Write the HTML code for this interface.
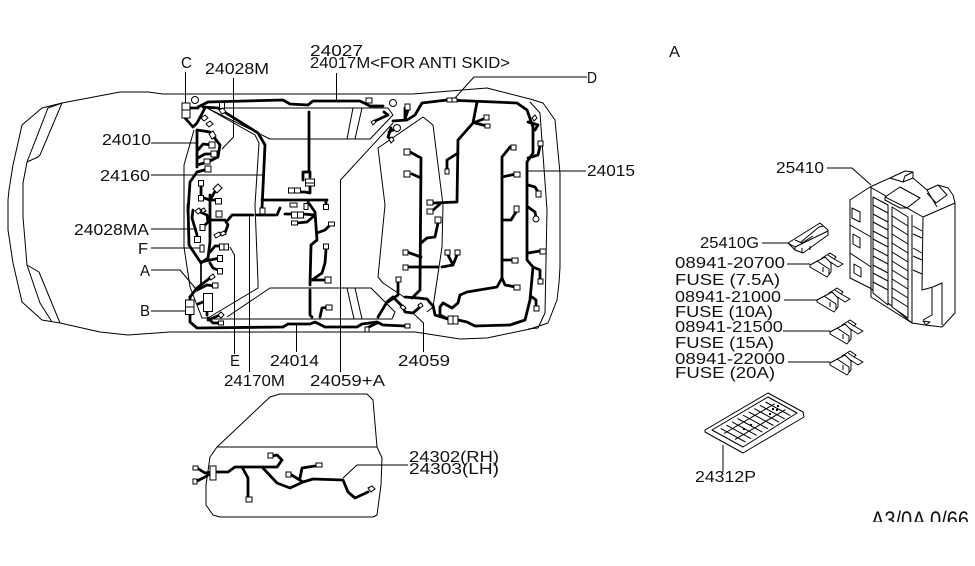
<!DOCTYPE html>
<html><head><meta charset="utf-8"><style>
html,body{margin:0;padding:0;background:#fff;width:975px;height:566px;overflow:hidden}
svg{display:block}
.t{fill:none;stroke:#000;stroke-width:1;stroke-linejoin:round}
.w{fill:none;stroke:#000;stroke-width:2.8;stroke-linejoin:round;stroke-linecap:round}
.n{fill:none;stroke:#000;stroke-width:1.7;stroke-linejoin:round;stroke-linecap:round}
.b rect,.b circle,.b path{fill:#fff;stroke:#000;stroke-width:1}
.f path{fill:#fff;stroke:#000;stroke-width:1;stroke-linejoin:round}
text{font-family:"Liberation Sans",sans-serif;font-size:16px;fill:#111}
</style></head><body>
<svg width="975" height="566" viewBox="0 0 975 566" xmlns="http://www.w3.org/2000/svg">
<defs><clipPath id="cp"><rect x="860" y="500" width="115" height="22"/></clipPath></defs>

<!-- car body -->
<path class="t" d="M60 323L42 320L22 302L13 263L8 230L8 200L9 190L13 165L22 125L42 108L62 103L120 92L148 92L163 94L413 94L487 88L530 99L543 103L555 120L560 173L560 267L559 283L557 300L548 323L530 329L487 338L460 339L415 332L170 332L128 335L100 332Z"/>
<path class="t" d="M62 103L40 155L38 157L27 162L23 183L23 217L27 265L39 272L60 323M62 103L48 108L27 162M27 265L40 303L52 322"/>
<!-- interior -->
<path class="t" d="M194 130L184 165L184 247L190 287L202 318L208 318L258 288L258 282L255 205L259 143L255 135L207 108L270 139L370 139L393 115L388 108L222 108"/>
<path class="t" d="M353 108L347 139M362 108L355 139M227 317L270 288L371 288L395 312L392 319L213 319M347 288L354 319M355 288L362 319"/>
<path class="t" d="M404 297L383 283L378 277L385 205L378 148L423 117L433 125L443 205L442 247L433 307L427 312"/>
<path class="t" d="M530 102L540 113L547 210L545 313L538 328L528 329"/>

<!-- leaders -->
<path class="t" d="M185.500 72V103M233.500 78V137L222 149M151 143H197M151 175H263M151 229H197M151 248H201M151 270H180L196 289M151 311H185M234.500 354V255L230 247M249.500 372V214M296.500 352V325M340.500 372V180L393 123M423.500 352V323L413 313M336.500 73V100M587 77H474L455 98M586 171H527"/>

<!-- wires top and left -->
<path class="w" d="M198 107L208 102L283 100L290 104L308 105L313 101L360 101L370 106L383 106M190 108H198"/>
<path class="w" d="M185 118L193 127L197 123L205 108M203 107L218 108L258 133L265 145L262 208M197 130V167M197 130L210 132L220 145L218 157L208 162L197 165M188 212L190 182L197 172L208 169M198 150L203 144L212 145M198 158L205 154L214 154"/>
<path class="w" d="M262 200H285"/>
<path class="w" d="M201 186V197L210 200L217 188M210 200H218M210 195V242L208 258L201 263M188 205L189 245L201 263M193 210L192 218L197 235M200 212L207 215L208 222L203 227"/>
<path class="w" d="M212 220H225L228 225L225 233L218 235M228 220L232 215L253 215M257 215H275M280 208L277 215M210 252L215 246L220 246M201 262L210 260L220 258M210 263L213 268L220 271M190 297L197 288L210 278M197 290L207 285L215 286"/>
<path class="n" d="M201 263V288"/>
<path class="w" d="M190 297V300M190 315V322L197 328L283 327L288 324L310 324L315 322L325 327L357 327L362 324L377 322L383 325L405 326M198 304L203 302M207 312V315M208 318L213 323L218 323M208 320L220 315M367 328L377 323"/>

<!-- centre -->
<path class="w" d="M309 112V172M303 180V172H310V177M310 186V193L305 192H300M285 200H327M326 200V205M308 202L315 212L317 240L311 245L310 285M285 214H292M303 214L315 215M297 223L307 222L315 215M317 233L325 230L329 226M326 250L325 263L322 273L312 280L327 280M310 290V315L312 317M320 317L322 308L329 307M375 121L388 115L384 112M391 128L388 137L391 139M397 128L389 132"/>

<!-- rear harness -->
<path class="w" d="M393 121L407 120L415 115L422 103L447 100L517 103L527 110L533 127V153L527 162V260L533 267L530 300L525 320L510 325L475 326L467 322L458 320M405 108L405 120M408 110L405 119"/>
<path class="w" d="M378 317L387 302L393 297M388 302L398 295L398 282M393 297L403 307L405 312L413 313L420 307M405 297L418 298L427 299L432 305M412 298L420 290L421 158M410 152L421 158M412 174L421 178"/>
<path class="w" d="M407 252L421 257M407 267H438M442 267L453 265L448 255M453 265L457 255M421 243L427 238L435 237L438 223"/>
<path class="w" d="M433 203L457 202L458 140L473 123L477 102M432 211L440 204M447 170V160L458 153M473 123L486 118M475 123L487 126"/>
<path class="w" d="M502 278V157L510 147M502 177L516 174M502 220H511L516 212M502 260L514 260M502 278L505 285L516 287M502 278L497 287L467 292L460 295L458 303L452 308L443 303L440 307V315L448 319M433 305L435 315L448 319"/>
<path class="w" d="M528 122L538 125L535 130M540 146L538 155L528 158M528 185L535 187L538 192M528 207L535 212L536 217M528 253L540 251M533 267L540 270V278M532 297L536 300V306"/>

<!-- connectors -->
<g class="b">
<rect x="182" y="103" width="8" height="15"/><path d="M182 110H190"/>
<circle cx="195" cy="100" r="3.500"/><rect x="219.500" y="102.500" width="5" height="6"/>
<path d="M201 118L205 115L208 118L204 121ZM206 124L210 121L213 124L209 127ZM209 134L213 131L216 136L212 139ZM219 110L223 108L226 112L222 114Z"/>
<rect x="209" y="142" width="6" height="6"/><rect x="211" y="151" width="6" height="6"/><rect x="204" y="159" width="6" height="5"/><rect x="205" y="166" width="6" height="6"/>
<rect x="198.500" y="180.500" width="5" height="5.500"/><rect x="198.500" y="195.500" width="5" height="5.500"/><path d="M213 189L218 184L222 188L217 193Z"/><rect x="215.500" y="198.500" width="6" height="5.500"/>
<rect x="216" y="211" width="6" height="6"/><rect x="200" y="224.500" width="5" height="6"/><path d="M214 235L219 232L221 235L216 238ZM220 233L224 231L226 234L222 236ZM195 211L199 208L202 211L198 214ZM200 210L204 208L206 211L202 213Z"/><rect x="194.500" y="236.500" width="6" height="6"/><rect x="200" y="245" width="4" height="7"/>
<rect x="219.500" y="244" width="4.500" height="6"/><rect x="224" y="244" width="4.500" height="6"/><rect x="217.500" y="255.500" width="5" height="6"/><rect x="217.500" y="268.500" width="5" height="5.500"/>
<path d="M209 277L213 274L215 277L211 280Z"/><rect x="212.500" y="283" width="5.500" height="5"/>
<rect x="203.500" y="293.500" width="9" height="18"/><rect x="185.500" y="300" width="8.500" height="14.500"/><path d="M185.500 307H194"/>
<path d="M218 315L221 312L224 315L221 318Z"/><rect x="218.500" y="321" width="5" height="4"/>
<rect x="260" y="208" width="5" height="6"/><rect x="290" y="203" width="7" height="4"/>
<rect x="288.500" y="188" width="6" height="5"/><rect x="294.500" y="188" width="6" height="5"/><rect x="305.500" y="179" width="9" height="7"/><path d="M305.500 183H314.500"/>
<rect x="304" y="203.500" width="4" height="6"/><rect x="323.500" y="204.500" width="5" height="5"/><rect x="291.500" y="212" width="6" height="6"/><rect x="297.500" y="212" width="6" height="6"/><rect x="291.500" y="221" width="6" height="4"/>
<rect x="328.500" y="222" width="6" height="4"/><rect x="323.500" y="244" width="5" height="5"/><rect x="325" y="277" width="6" height="6"/><rect x="326" y="305" width="6" height="5"/>
<rect x="366" y="98" width="6" height="5"/><circle cx="393" cy="103" r="3.500"/><circle cx="397" cy="128" r="3.500"/><rect x="405" y="104" width="5" height="6"/>
<path d="M371 122L374 120L376 122L373 125ZM389 139L392 137L394 140L391 143Z"/>
<rect x="404" y="149" width="6" height="6"/><rect x="404" y="171" width="6" height="6"/><rect x="403" y="250" width="5" height="5"/><rect x="403" y="265" width="5" height="5"/>
<rect x="427" y="200" width="6" height="5"/><rect x="427" y="209" width="6" height="5"/><rect x="435" y="217" width="6" height="6"/>
<rect x="445" y="250" width="5" height="5"/><rect x="455" y="250" width="5" height="5"/><rect x="445" y="169" width="4" height="5"/>
<rect x="447" y="98" width="5" height="4"/><rect x="452" y="98" width="5" height="4"/><rect x="484" y="115" width="5" height="5"/><rect x="485" y="124" width="5" height="4"/>
<rect x="511" y="145" width="5" height="5"/><rect x="514" y="172" width="6" height="5"/><rect x="514" y="206" width="5" height="6"/><rect x="512" y="258" width="6" height="5"/><rect x="514" y="285" width="6" height="5"/>
<rect x="538" y="141" width="5" height="5"/><rect x="536" y="191" width="5" height="6"/><circle cx="536" cy="219" r="3"/><rect x="540" y="249" width="6" height="5"/><rect x="538" y="279" width="5" height="5"/><rect x="534" y="306" width="5" height="5"/>
<path d="M532 118L535 115L537 118L534 121Z"/>
<rect x="396" y="277" width="5" height="5"/><path d="M400 307L403 305L406 308L403 310ZM418 305L421 303L423 306L420 308Z"/>
<rect x="448" y="316" width="5" height="8"/><rect x="453" y="316" width="5" height="8"/>
<rect x="405" y="324" width="5" height="4"/><rect x="365" y="327" width="4" height="5"/>
</g>

<!-- door -->
<path class="t" d="M217 447L270 397L280 394H367L373 400L377 447ZM217 447L210 457L206 485V505L213 515L220 517H373L377 515L381 485L382 458L377 447"/>
<path class="t" d="M343 478L357 465H408"/>
<path class="w" d="M197 468L205 473L213 472L205 477L197 481M217 472H228L235 467H262L277 467L282 460L277 455L272 456M242 467L248 478L248 497M262 467L277 483L290 488L303 482L313 479L343 480L348 492L355 498L368 492M300 478L302 468L315 466M290 474L303 482"/>
<g class="b">
<rect x="193" y="466" width="5" height="4"/><rect x="193" y="479" width="4" height="5"/><rect x="210" y="466" width="6" height="14"/>
<rect x="268" y="453" width="5" height="5"/><rect x="246" y="497" width="6" height="5"/><rect x="316" y="463" width="6" height="4"/><rect x="286" y="472" width="5" height="5"/>
<path d="M368 488L372 486L375 489L371 492Z"/>
</g>

<!-- fuse box -->
<g class="f">
<path d="M850 200L870 187L890 178L905 171L913 172L913 178L927 190L938 185L948 188L953 195L955 203V313L942 327L925 325L912 323L870 288L850 278Z"/>
<path d="M871 188V297L912 323M870 187L923 217L922 290L933 287L942 283V325M923 217L955 203M912 215V323M932 288V315L923 320M850 225L871 237M850 253L871 267" style="fill:none"/>
<path d="M890 178L903 182L913 178M903 182L905 176L913 172M927 190L937 207M927 193L936 203L947 195L938 185" style="fill:none"/>
<path d="M873 197L888 205V305L873 293Z"/><path d="M892 207L908 217V318L892 307Z"/>
<path d="M885 197L900 187L920 198L907 208ZM885 197V200L900 208L907 208"/>
<path d="M852 208L860 212V222L852 218ZM853 234L860 238V248L853 244ZM854 264L861 268V277L854 273ZM923 321L930 322L926 325Z"/>
<path d="M873 205L888 213M873 214L888 222M873 222L888 230M873 231L888 239M873 239L888 247M873 248L888 256M873 256L888 264M873 265L888 273M873 273L888 281M873 282L888 290M892 216L908 226M892 225L908 235M892 234L908 244M892 243L908 253M892 252L908 262M892 261L908 271M892 270L908 280M892 279L908 289M892 288L908 298M892 297L908 307M913 226L922 231M913 234L922 238M913 248L922 253M913 256L922 260M913 270L922 274" style="fill:none"/>
<path d="M788 243L820 223L828 230V235L803 253L795 250ZM788 243L795 247V250M795 247L828 231M801 242L819 227L823 226M802 248V253M810 246V250M795 240L802 243L813 236" />
<path d="M822 258L830 253L836 257L834 259L843 264L838 267L832 263ZM828 255L834 259"/><path d="M810 265L825 257L831 263V272L827 277L810 267ZM817 261L829 269V275M823 272V267"/>
<g transform="translate(7,35)"><path d="M822 258L830 253L836 257L834 259L843 264L838 267L832 263ZM828 255L834 259"/><path d="M810 265L825 257L831 263V272L827 277L810 267ZM817 261L829 269V275M823 272V267"/></g>
<g transform="translate(20,67)"><path d="M822 258L830 253L836 257L834 259L843 264L838 267L832 263ZM828 255L834 259"/><path d="M810 265L825 257L831 263V272L827 277L810 267ZM817 261L829 269V275M823 272V267"/></g>
<g transform="translate(20,98)"><path d="M822 258L830 253L836 257L834 259L843 264L838 267L832 263ZM828 255L834 259"/><path d="M810 265L825 257L831 263V272L827 277L810 267ZM817 261L829 269V275M823 272V267"/></g>
</g>
<path class="t" d="M827 168H852L871 185M762 243H788M787 264H810M784 300H817M783 331H830M788 362H830M723 445V472"/>

<!-- mat -->
<path class="t" d="M705 430L768 393L803 412L804 417L743 453L705 432ZM712 430L768 397L797 413L743 447Z"/>
<path class="t" d="M720.700 428.400L745.500 442M726.300 425.100L751.100 438.700M731.900 421.800L756.700 435.400M737.500 418.500L762.300 432.100M743.100 415.200L767.900 428.800M748.700 411.900L773.500 425.500M754.300 408.600L779.100 422.200M759.900 405.300L784.700 418.900M765.500 402L790.300 415.600M724.100 433.500L774.500 403.800M735 439.400L785.400 409.700"/>
<path d="M750 424h2v2h-2zM743 428h2v2h-2zM769 413h2v2h-2zM776 409h2v2h-2zM772 408h2v2h-2zM777 405h2v2h-2z"/>

<!-- labels -->
<text x="310" y="56" textLength="53" lengthAdjust="spacingAndGlyphs">24027</text>
<text x="310" y="68" textLength="200" lengthAdjust="spacingAndGlyphs">24017M&lt;FOR ANTI SKID&gt;</text>
<text x="181" y="68" textLength="11" lengthAdjust="spacingAndGlyphs">C</text>
<text x="205" y="74" textLength="64" lengthAdjust="spacingAndGlyphs">24028M</text>
<text x="102" y="145" textLength="49" lengthAdjust="spacingAndGlyphs">24010</text>
<text x="100" y="181" textLength="50" lengthAdjust="spacingAndGlyphs">24160</text>
<text x="74" y="235" textLength="75" lengthAdjust="spacingAndGlyphs">24028MA</text>
<text x="138" y="254" textLength="10" lengthAdjust="spacingAndGlyphs">F</text>
<text x="140" y="276" textLength="10" lengthAdjust="spacingAndGlyphs">A</text>
<text x="140" y="316" textLength="10" lengthAdjust="spacingAndGlyphs">B</text>
<text x="230" y="366" textLength="10" lengthAdjust="spacingAndGlyphs">E</text>
<text x="224" y="386" textLength="61" lengthAdjust="spacingAndGlyphs">24170M</text>
<text x="270" y="366" textLength="49" lengthAdjust="spacingAndGlyphs">24014</text>
<text x="310" y="386" textLength="75" lengthAdjust="spacingAndGlyphs">24059+A</text>
<text x="398" y="366" textLength="52" lengthAdjust="spacingAndGlyphs">24059</text>
<text x="587" y="83" textLength="10" lengthAdjust="spacingAndGlyphs">D</text>
<text x="587" y="176" textLength="48" lengthAdjust="spacingAndGlyphs">24015</text>
<text x="669" y="57" textLength="11" lengthAdjust="spacingAndGlyphs">A</text>
<text x="409" y="462" textLength="90" lengthAdjust="spacingAndGlyphs">24302(RH)</text>
<text x="409" y="474" textLength="90" lengthAdjust="spacingAndGlyphs">24303(LH)</text>
<text x="776" y="173" textLength="48" lengthAdjust="spacingAndGlyphs">25410</text>
<text x="700" y="248" textLength="59" lengthAdjust="spacingAndGlyphs">25410G</text>
<text x="675" y="268" textLength="110" lengthAdjust="spacingAndGlyphs">08941-20700</text>
<text x="675" y="285" textLength="105" lengthAdjust="spacingAndGlyphs">FUSE (7.5A)</text>
<text x="675" y="302" textLength="106" lengthAdjust="spacingAndGlyphs">08941-21000</text>
<text x="675" y="317" textLength="98" lengthAdjust="spacingAndGlyphs">FUSE (10A)</text>
<text x="675" y="332" textLength="108" lengthAdjust="spacingAndGlyphs">08941-21500</text>
<text x="675" y="348" textLength="99" lengthAdjust="spacingAndGlyphs">FUSE (15A)</text>
<text x="675" y="364" textLength="110" lengthAdjust="spacingAndGlyphs">08941-22000</text>
<text x="675" y="378" textLength="100" lengthAdjust="spacingAndGlyphs">FUSE (20A)</text>
<text x="695" y="482" textLength="61" lengthAdjust="spacingAndGlyphs">24312P</text>
<g clip-path="url(#cp)"><text x="871" y="528" textLength="98" lengthAdjust="spacingAndGlyphs" style="font-size:24px">A3/0A 0/66</text></g>
</svg>
</body></html>
